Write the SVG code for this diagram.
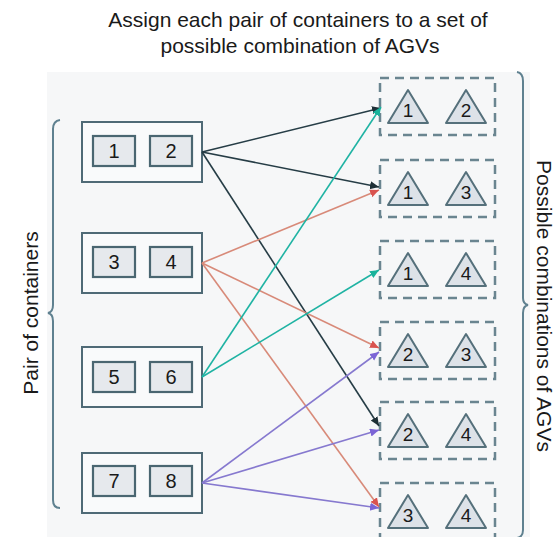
<svg xmlns="http://www.w3.org/2000/svg" width="556" height="537" viewBox="0 0 556 537">
<style>
  .t { font-family: "Liberation Sans", Arial, sans-serif; fill: #1a1a1a; }
  .title { font-size: 21px; text-anchor: middle; }
  .side { font-size: 21px; text-anchor: middle; }
  .num { font-size: 20px; text-anchor: middle; }
  .tnum { font-size: 19px; text-anchor: middle; }
  .outer { fill: #f9fafb; stroke: #4f6a76; stroke-width: 2; }
  .inner { fill: #e6e9ed; stroke: #4a6671; stroke-width: 2.2; }
  .dash { fill: none; stroke: #6a8590; stroke-width: 2.5; stroke-dasharray: 9 6; }
  .tri { fill: #dde2e8; stroke: #55707b; stroke-width: 2; stroke-linejoin: round; }
  .brace { fill: none; stroke: #5f8190; stroke-width: 2; }
  .c { fill: none; stroke-width: 1.6; }
  .k { stroke: #263d46; }
  .r { stroke: #d88a79; }
  .g { stroke: #1fb3a3; }
  .p { stroke: #8679cf; }
</style>
<defs>
  <marker id="ak" markerUnits="userSpaceOnUse" markerWidth="10" markerHeight="10" refX="9" refY="4" orient="auto"><path d="M0,0 L9,4 L0,8 z" fill="#1e2f36"/></marker>
  <marker id="ar" markerUnits="userSpaceOnUse" markerWidth="10" markerHeight="10" refX="9" refY="4" orient="auto"><path d="M0,0 L9,4 L0,8 z" fill="#d9534f"/></marker>
  <marker id="ag" markerUnits="userSpaceOnUse" markerWidth="10" markerHeight="10" refX="9" refY="4" orient="auto"><path d="M0,0 L9,4 L0,8 z" fill="#18b39b"/></marker>
  <marker id="ap" markerUnits="userSpaceOnUse" markerWidth="10" markerHeight="10" refX="9" refY="4" orient="auto"><path d="M0,0 L9,4 L0,8 z" fill="#7b64d6"/></marker>
</defs>
<rect x="0" y="0" width="556" height="537" fill="#ffffff"/>
<rect x="47" y="72" width="483" height="465" fill="#f6f7f8"/>

<g id="title">
  <text class="t title" x="298" y="27">Assign each pair of containers to a set of</text>
  <text class="t title" x="300" y="53">possible combination of AGVs</text>
</g>

<g id="left-brace">
  <path class="brace" d="M60,120 Q53,121 53,129 L53,305 Q53,312 48,313 Q53,314 53,321 L53,500 Q53,508 60,508"/>
  <text class="t side" transform="translate(38,313) rotate(-90)">Pair of containers</text>
</g>

<g id="right-brace">
  <path class="brace" d="M517,72 Q523,73 523,81 L523,298 Q523,304 528,305 Q523,306 523,313 L523,530 Q523,537 517,538"/>
  <text class="t side" transform="translate(537,306) rotate(90)">Possible combinations of AGVs</text>
</g>

<g id="pair-1-2">
  <rect class="outer" x="82" y="122" width="120" height="60"/>
  <rect class="inner" x="93" y="136" width="42" height="30"/>
  <rect class="inner" x="150" y="136" width="42" height="30"/>
  <text class="t num" x="114" y="158">1</text>
  <text class="t num" x="171" y="158">2</text>
</g>
<g id="pair-3-4">
  <rect class="outer" x="82" y="233" width="120" height="60"/>
  <rect class="inner" x="93" y="247" width="42" height="30"/>
  <rect class="inner" x="150" y="247" width="42" height="30"/>
  <text class="t num" x="114" y="269">3</text>
  <text class="t num" x="171" y="269">4</text>
</g>
<g id="pair-5-6">
  <rect class="outer" x="82" y="347" width="120" height="60"/>
  <rect class="inner" x="93" y="362" width="42" height="30"/>
  <rect class="inner" x="150" y="362" width="42" height="30"/>
  <text class="t num" x="114" y="384">5</text>
  <text class="t num" x="171" y="384">6</text>
</g>
<g id="pair-7-8">
  <rect class="outer" x="82" y="453" width="120" height="60"/>
  <rect class="inner" x="93" y="466" width="42" height="30"/>
  <rect class="inner" x="150" y="466" width="42" height="30"/>
  <text class="t num" x="114" y="488">7</text>
  <text class="t num" x="171" y="488">8</text>
</g>

<g id="agv-1-2">
  <rect class="dash" x="380" y="78" width="115" height="57"/>
  <path class="tri" d="M408,90 L428,123 L388,123 Z"/>
  <path class="tri" d="M466,90 L486,123 L446,123 Z"/>
  <text class="t tnum" x="408" y="117">1</text>
  <text class="t tnum" x="466" y="117">2</text>
</g>
<g id="agv-1-3">
  <rect class="dash" x="380" y="160" width="115" height="57"/>
  <path class="tri" d="M408,172 L428,205 L388,205 Z"/>
  <path class="tri" d="M466,172 L486,205 L446,205 Z"/>
  <text class="t tnum" x="408" y="199">1</text>
  <text class="t tnum" x="466" y="199">3</text>
</g>
<g id="agv-1-4">
  <rect class="dash" x="380" y="241" width="115" height="57"/>
  <path class="tri" d="M408,253 L428,286 L388,286 Z"/>
  <path class="tri" d="M466,253 L486,286 L446,286 Z"/>
  <text class="t tnum" x="408" y="280">1</text>
  <text class="t tnum" x="466" y="280">4</text>
</g>
<g id="agv-2-3">
  <rect class="dash" x="380" y="322" width="115" height="57"/>
  <path class="tri" d="M408,334 L428,367 L388,367 Z"/>
  <path class="tri" d="M466,334 L486,367 L446,367 Z"/>
  <text class="t tnum" x="408" y="361">2</text>
  <text class="t tnum" x="466" y="361">3</text>
</g>
<g id="agv-2-4">
  <rect class="dash" x="380" y="402" width="115" height="57"/>
  <path class="tri" d="M408,414 L428,447 L388,447 Z"/>
  <path class="tri" d="M466,414 L486,447 L446,447 Z"/>
  <text class="t tnum" x="408" y="441">2</text>
  <text class="t tnum" x="466" y="441">4</text>
</g>
<g id="agv-3-4">
  <rect class="dash" x="380" y="483" width="115" height="57"/>
  <path class="tri" d="M408,495 L428,528 L388,528 Z"/>
  <path class="tri" d="M466,495 L486,528 L446,528 Z"/>
  <text class="t tnum" x="408" y="522">3</text>
  <text class="t tnum" x="466" y="522">4</text>
</g>

<g id="connectors">
  <path class="c k" d="M202,152 L381,108" marker-end="url(#ak)"/>
  <path class="c k" d="M202,152 L379,187" marker-end="url(#ak)"/>
  <path class="c k" d="M202,152 L379,426" marker-end="url(#ak)"/>
  <path class="c r" d="M202,263 L379,190" marker-end="url(#ar)"/>
  <path class="c r" d="M202,263 L379,348" marker-end="url(#ar)"/>
  <path class="c r" d="M202,263 L379,507" marker-end="url(#ar)"/>
  <path class="c g" d="M202,377 L381,107" marker-end="url(#ag)"/>
  <path class="c g" d="M202,377 L379,270" marker-end="url(#ag)"/>
  <path class="c p" d="M202,483 L379,352" marker-end="url(#ap)"/>
  <path class="c p" d="M202,483 L379,430" marker-end="url(#ap)"/>
  <path class="c p" d="M202,483 L379,508" marker-end="url(#ap)"/>
</g>
</svg>
